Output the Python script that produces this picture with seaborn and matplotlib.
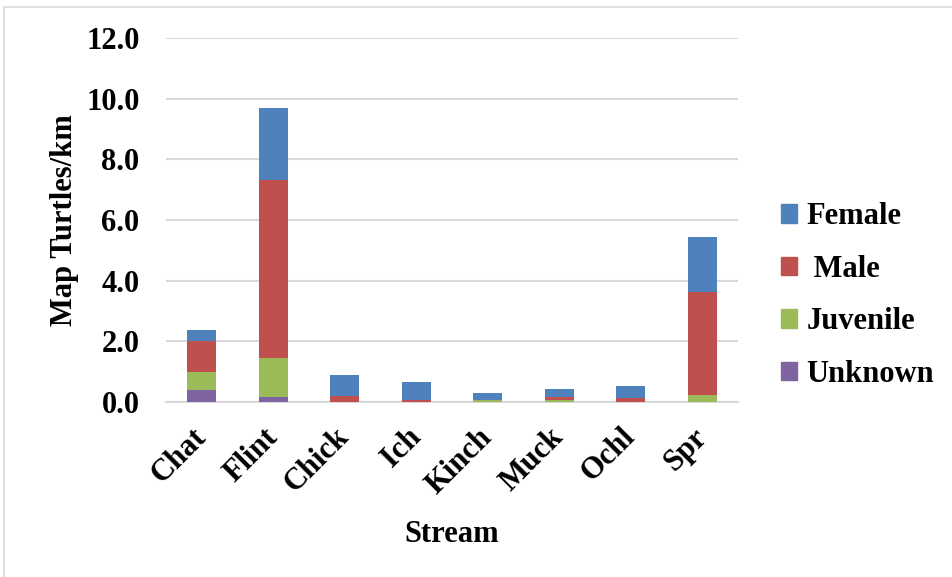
import matplotlib
matplotlib.use("Agg")
import matplotlib.pyplot as plt
import matplotlib.patches as mpatches
import seaborn as sns
import pandas as pd
import numpy as np

# Stacked values (turtles/km)
streams = ["Chat", "Flint", "Chick", "Ich", "Kinch", "Muck", "Ochl", "Spr"]
unknown = [0.40, 0.17, 0.00, 0.00, 0.00, 0.00, 0.00, 0.00]
juvenile = [0.61, 1.29, 0.01, 0.00, 0.07, 0.08, 0.00, 0.22]
male = [0.99, 5.85, 0.20, 0.08, 0.00, 0.08, 0.13, 3.42]
female = [0.39, 2.40, 0.67, 0.58, 0.22, 0.28, 0.39, 1.80]

layers = ["Unknown", "Juvenile", "Male", "Female"]
legend_labels = {"Female": "Female", "Male": " Male", "Juvenile": "Juvenile", "Unknown": "Unknown"}
colors = {"Unknown": "#8064A2", "Juvenile": "#9BBB59", "Male": "#C0504D", "Female": "#4F81BD"}

df = pd.DataFrame({"Stream": streams, "Unknown": unknown, "Juvenile": juvenile,
                   "Male": male, "Female": female})

sns.set_style("white")
plt.rcParams["font.family"] = ["Liberation Serif", "DejaVu Serif"]
plt.rcParams["font.weight"] = "bold"
plt.rcParams["text.color"] = "black"
plt.rcParams["xtick.color"] = "black"
plt.rcParams["ytick.color"] = "black"
plt.rcParams["axes.labelcolor"] = "black"

fig = plt.figure(figsize=(9.53, 5.77), dpi=100)
ax = fig.add_axes([166 / 953, 0.303, 572 / 953, 0.631])

bottom = np.zeros(len(streams))
for layer in layers:
    sns.barplot(data=df, x="Stream", y=layer, bottom=bottom, color=colors[layer],
                width=0.4, ax=ax, saturation=1, linewidth=0, zorder=3)
    bottom = bottom + df[layer].values

ax.set_ylim(0, 12)
ax.set_yticks(np.arange(0, 12.1, 2))
ax.set_yticklabels([f"{v:.1f}" for v in np.arange(0, 12.1, 2)], fontsize=22, fontweight="bold")
ax.set_xlim(-0.5, len(streams) - 0.5)
ax.set_xticks(range(len(streams)))
ax.set_xticklabels(streams, rotation=45, ha="right", va="center", rotation_mode="anchor",
                   fontsize=22, fontweight="bold")
ax.tick_params(axis="y", length=0, pad=19)
ax.tick_params(axis="x", length=0, pad=22)
ax.yaxis.grid(True, color="#D9D9D9", linewidth=1.5, zorder=0)
ax.set_axisbelow(True)
for s in ["top", "right", "left"]:
    ax.spines[s].set_visible(False)
ax.spines["bottom"].set_color("#D9D9D9")
ax.spines["bottom"].set_linewidth(1.5)

ax.set_ylabel("Map Turtles/km", fontsize=22, fontweight="bold", labelpad=5)
ax.set_xlabel("Stream", fontsize=22, fontweight="bold", labelpad=15)

handles = [mpatches.Patch(color=colors[l], label=legend_labels[l]) for l in layers[::-1]]
fig.legend(handles=handles, loc="center left", bbox_to_anchor=(0.819, 0.488),
           frameon=False, handlelength=0.55, handleheight=0.55,
           handletextpad=0.3, labelspacing=0.77, borderaxespad=0, borderpad=0,
           prop={"weight": "bold", "size": 22})

# thin frame edges seen at left and top of the image
fig.add_artist(plt.Line2D([4 / 953, 4 / 953], [0, 1 - 7 / 577], color="#D9D9D9", lw=1.2))
fig.add_artist(plt.Line2D([4 / 953, 1], [1 - 7 / 577, 1 - 7 / 577], color="#D9D9D9", lw=1.2))

fig.savefig("out.png", dpi=100)
plt.close(fig)
